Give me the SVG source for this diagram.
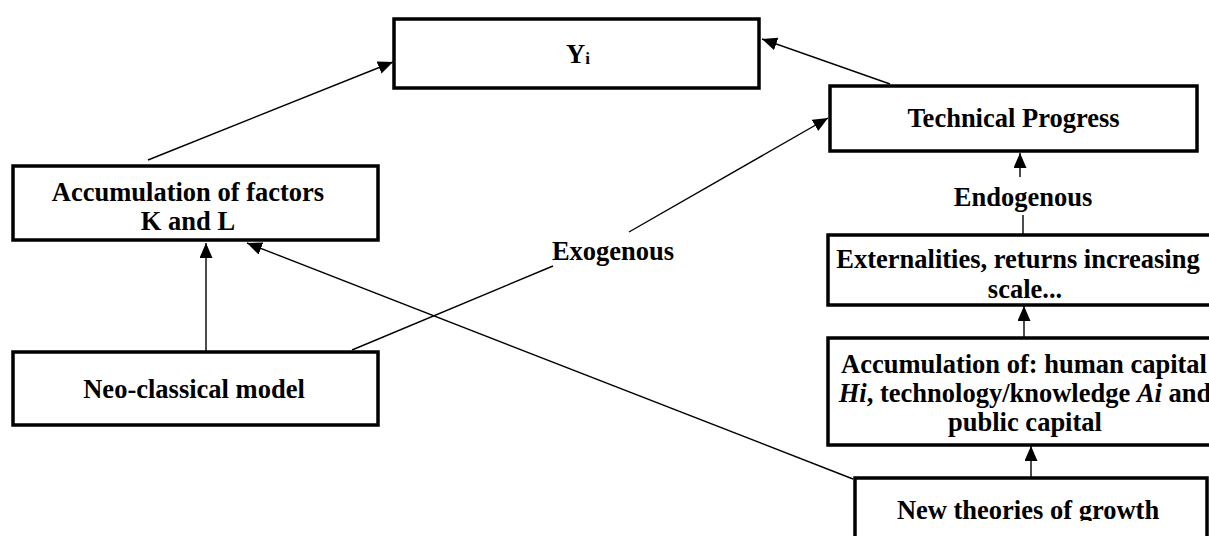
<svg xmlns="http://www.w3.org/2000/svg" width="1209" height="536" viewBox="0 0 1209 536">
<style>
.box{fill:#fff;stroke:#000;stroke-width:3.5}
.t{font-family:"Liberation Serif","Times New Roman",serif;font-weight:bold;font-size:26.5px;fill:#000;text-anchor:middle}
.c{stroke:#000;stroke-width:1.4;fill:none}
.arr{marker-end:url(#ah)}
</style>
<defs>
<marker id="ah" markerUnits="userSpaceOnUse" markerWidth="16" markerHeight="14" refX="15" refY="6.5" orient="auto">
<path d="M0,0 L15,6.5 L0,13 z" fill="#000"/>
</marker>
<clipPath id="clipNew"><rect x="855" y="478" width="360" height="43"/></clipPath>
</defs>
<rect width="1209" height="536" fill="#fff"/>
<g id="connectors">
<line class="c arr" x1="148" y1="160" x2="393" y2="62"/>
<line class="c arr" x1="890" y1="84" x2="762" y2="39"/>
<line class="c" x1="352" y1="350" x2="553" y2="266"/>
<line class="c arr" x1="629" y1="232" x2="828" y2="118"/>
<line class="c arr" x1="206" y1="352" x2="206" y2="243"/>
<line class="c arr" x1="853" y1="479" x2="247" y2="243"/>
<line class="c arr" x1="1020" y1="177" x2="1020" y2="153"/>
<line class="c" x1="1023" y1="215" x2="1023" y2="234"/>
<line class="c arr" x1="1024" y1="338" x2="1024" y2="306"/>
<line class="c arr" x1="1031" y1="477" x2="1031" y2="446"/>
</g>
<g id="label-exogenous"><text class="t" x="613" y="260">Exogenous</text></g>
<g id="label-endogenous"><text class="t" x="1023" y="206">Endogenous</text></g>
<g id="node-yi">
<rect class="box" x="394" y="19" width="365" height="69"/>
<text class="t" x="578" y="63">Y<tspan font-size="17" dy="1">i</tspan></text>
</g>
<g id="node-tech">
<rect class="box" x="830" y="86" width="367" height="65"/>
<text class="t" x="1013.5" y="127">Technical Progress</text>
</g>
<g id="node-accum-factors">
<rect class="box" x="13" y="166" width="365" height="74"/>
<text class="t" x="188" y="201">Accumulation of factors</text>
<text class="t" x="188" y="230">K and L</text>
</g>
<g id="node-neo">
<rect class="box" x="13" y="352" width="365" height="73"/>
<text class="t" x="194" y="398">Neo-classical model</text>
</g>
<g id="node-ext">
<rect class="box" x="828" y="235" width="394" height="70"/>
<text class="t" x="1018" y="268">Externalities, returns increasing</text>
<text class="t" x="1025" y="298">scale...</text>
</g>
<g id="node-accum-of">
<rect class="box" x="828" y="338" width="394" height="107"/>
<text class="t" x="1024" y="373">Accumulation of: human capital</text>
<text class="t" x="1025" y="402"><tspan font-style="italic">Hi</tspan>, technology/knowledge <tspan font-style="italic">Ai</tspan> and</text>
<text class="t" x="1025" y="431">public capital</text>
</g>
<g id="node-new">
<rect class="box" x="855" y="478" width="352" height="80"/>
<text class="t" x="1028" y="519" clip-path="url(#clipNew)">New theories of growth</text>
</g>
</svg>
